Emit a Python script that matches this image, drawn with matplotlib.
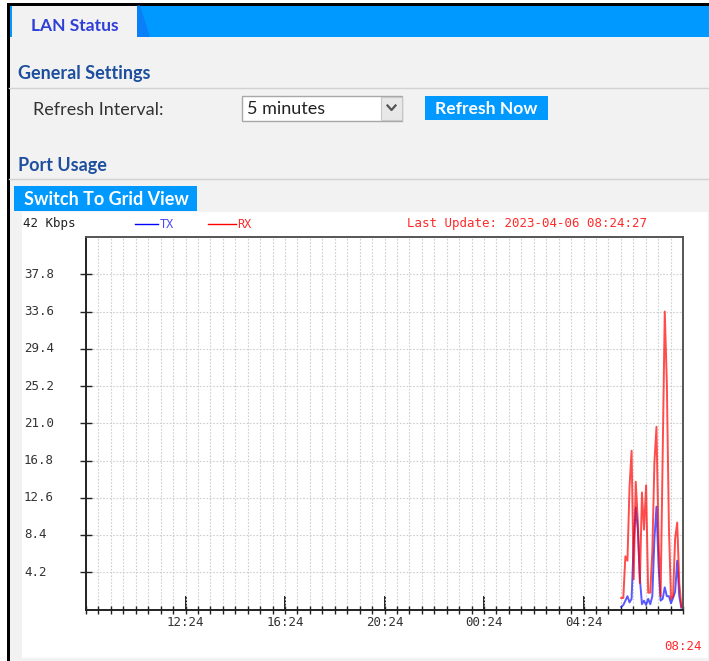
import matplotlib
matplotlib.use("Agg")
import matplotlib.pyplot as plt
import matplotlib.patches as mpatches
import matplotlib.transforms as mtransforms
from matplotlib.ticker import MultipleLocator

W, H = 709, 661

# 5-minute samples (Kbps)
times = ["05:55", "06:00", "06:05", "06:10", "06:15", "06:20", "06:25", "06:30",
         "06:35", "06:40", "06:45", "06:50", "06:55", "07:00", "07:05", "07:10",
         "07:15", "07:20", "07:25", "07:30", "07:35", "07:40", "07:45", "07:50",
         "07:55", "08:00", "08:05", "08:10", "08:15", "08:20"]
rx = [1.3, 1.3, 6.0, 5.5, 13.8, 17.9, 3.4, 14.4, 10.0, 3.0,
      13.2, 9.0, 14.0, 1.9, 1.9, 6.5, 16.5, 20.6, 7.8, 1.5,
      17.5, 33.6, 25.6, 9.3, 1.2, 1.5, 8.0, 9.8, 3.0, 0.3]
tx = [0.3, 0.5, 1.0, 1.5, 0.8, 1.2, 7.5, 11.5, 9.0, 3.5,
      0.6, 1.0, 0.5, 1.2, 0.6, 1.5, 7.9, 11.6, 5.0, 1.0,
      1.2, 2.5, 1.5, 1.5, 0.7, 1.3, 2.0, 5.5, 1.5, 0.2]

y_labels = ["4.2", "8.4", "12.6", "16.8", "21.0", "25.2", "29.4", "33.6", "37.8"]
x_labels = ["12:24", "16:24", "20:24", "00:24", "04:24"]
start_label = "08:24"


def hours_after_start(t):
    h, m = t.split(":")
    s0, m0 = start_label.split(":")
    d = (int(h) * 60 + int(m)) - (int(s0) * 60 + int(m0))
    return (d % 1440) / 60.0


hours = [hours_after_start(t) for t in times]
x_ticks = [hours_after_start(t) for t in x_labels]
y_ticks = [float(v) for v in y_labels]

ui_font = ["Lato", "DejaVu Sans"]
mono = "DejaVu Sans Mono"

fig = plt.figure(figsize=(W / 100, H / 100), dpi=100)
fig.patch.set_facecolor("white")

# page background / frame, in pixel coordinates
bg = fig.add_axes([0, 0, 1, 1])
bg.set_xlim(0, W)
bg.set_ylim(H, 0)
bg.axis("off")

bg.add_patch(mpatches.Rectangle((9, 5), W - 9, H - 5, fc="#f2f2f2", ec="none"))
bg.add_patch(mpatches.Rectangle((7, 3), W - 7, 2.5, fc="black", ec="none"))
bg.add_patch(mpatches.Rectangle((7, 3), 2.5, H - 3, fc="black", ec="none"))
bg.add_patch(mpatches.Rectangle((9.5, 5.5), W - 9.5, 31.5, fc="#0099ff", ec="none"))
bg.add_patch(mpatches.Polygon([(137, 5.5), (140, 5.5), (150, 37), (137, 37)],
                              closed=True, fc="#0a80f8", ec="none"))
bg.add_patch(mpatches.Rectangle((12, 5.5), 125, 31.5, fc="#f2f2f2", ec="none"))
bg.text(75, 26, "LAN Status", family=ui_font, weight="bold", fontsize=12.5,
        color="#2f3fd8", ha="center", va="center")

bg.text(18, 74, "General Settings", family=ui_font, weight="bold", fontsize=13,
        color="#1d4f9e", ha="left", va="center")
bg.plot([9, W], [88, 88], color="#d2d2d2", lw=1)
bg.text(33, 110, "Refresh Interval:", family=ui_font, fontsize=13,
        color="#333333", ha="left", va="center")
bg.add_patch(mpatches.Rectangle((242, 96), 160, 25, fc="white", ec="#a8a8a8", lw=1))
bg.add_patch(mpatches.Rectangle((381, 97), 20.5, 23, fc="#e8e8e8", ec="#c8c8c8", lw=0.8))
bg.plot([387.5, 391.5, 395.5], [105.5, 110, 105.5], color="#555555", lw=1.6)
bg.text(247, 109, "5 minutes", family=ui_font, fontsize=13,
        color="#222222", ha="left", va="center")
bg.add_patch(mpatches.Rectangle((425, 96), 123, 24, fc="#0099ff", ec="none"))
bg.text(486.5, 109, "Refresh Now", family=ui_font, weight="bold", fontsize=12.6,
        color="white", ha="center", va="center")

bg.text(18, 165, "Port Usage", family=ui_font, weight="bold", fontsize=13,
        color="#1d4f9e", ha="left", va="center")
bg.plot([9, W], [179, 179], color="#d2d2d2", lw=1)
bg.add_patch(mpatches.Rectangle((14, 186), 183, 25, fc="#0099ff", ec="none"))
bg.text(106, 199.5, "Switch To Grid View", family=ui_font, weight="bold", fontsize=13,
        color="white", ha="center", va="center")

bg.add_patch(mpatches.Rectangle((22, 212), 686, 446, fc="white", ec="none"))

# legend row
bg.text(23, 224, "42 Kbps", family=mono, fontsize=9, color="#222222",
        ha="left", va="center")
bg.plot([135, 158], [224, 224], color="#0000ff", lw=1)
bg.text(160, 224, "TX", family=mono, fontsize=8.5, color="#4a4aff",
        ha="left", va="center")
bg.plot([208, 236], [224, 224], color="#ff0000", lw=1)
bg.text(237, 224, "RX", family=mono, fontsize=8.5, color="#ff2a2a",
        ha="left", va="center")
bg.text(407, 224, "Last Update: 2023-04-06 08:24:27", family=mono, fontsize=9,
        color="#ff2a2a", ha="left", va="center")

# chart
ax = fig.add_axes([86 / W, 1 - 609.5 / H, (683 - 86) / W, (609.5 - 237) / H])
ax.set_facecolor("white")
ax.plot(hours, tx, color="#0000ff", lw=1.4, alpha=0.65, zorder=3)
ax.plot(hours, rx, color="#ff0000", lw=1.4, alpha=0.7, zorder=4)
ax.set_xlim(0, 24)
ax.set_ylim(0, 42)

ax.grid(which="minor", axis="x", color="#cfcfcf", ls=(0, (1.5, 1.5)), lw=0.8, zorder=0)
ax.grid(which="major", axis="y", color="#cfcfcf", ls=(0, (1.5, 1.5)), lw=0.8, zorder=0)
ax.set_axisbelow(True)
ax.set_yticks(y_ticks)
ax.set_xticks(x_ticks)
ax.set_xticklabels(x_labels, family=mono, fontsize=9, color="#333333")
ax.xaxis.set_minor_locator(MultipleLocator(0.5))
ax.xaxis.remove_overlapping_locs = False
ax.tick_params(axis="y", direction="inout", length=8, width=1, color="#222222",
               labelleft=False)
ax.tick_params(axis="x", which="minor", direction="inout", length=6, width=1,
               color="#222222")
ax.tick_params(axis="x", which="major", direction="in", length=10, width=1.3,
               color="#111111", pad=5, gridOn=False)
for side in ["left", "bottom"]:
    ax.spines[side].set_color("#222222")
    ax.spines[side].set_linewidth(1.4)
for side in ["top", "right"]:
    ax.spines[side].set_color("#555555")
    ax.spines[side].set_linewidth(1.4)

ytrans = mtransforms.blended_transform_factory(bg.transData, ax.transData)
for v, lab in zip(y_ticks, y_labels):
    ax.text(24, v, lab, transform=ytrans, family=mono, fontsize=9,
            color="#333333", ha="left", va="center")

xtrans = mtransforms.blended_transform_factory(ax.transData, bg.transData)
ax.text(24, 647, start_label, transform=xtrans, family=mono, fontsize=9,
        color="#ff2a2a", ha="center", va="center", clip_on=False)

fig.savefig("out.png", dpi=100)
